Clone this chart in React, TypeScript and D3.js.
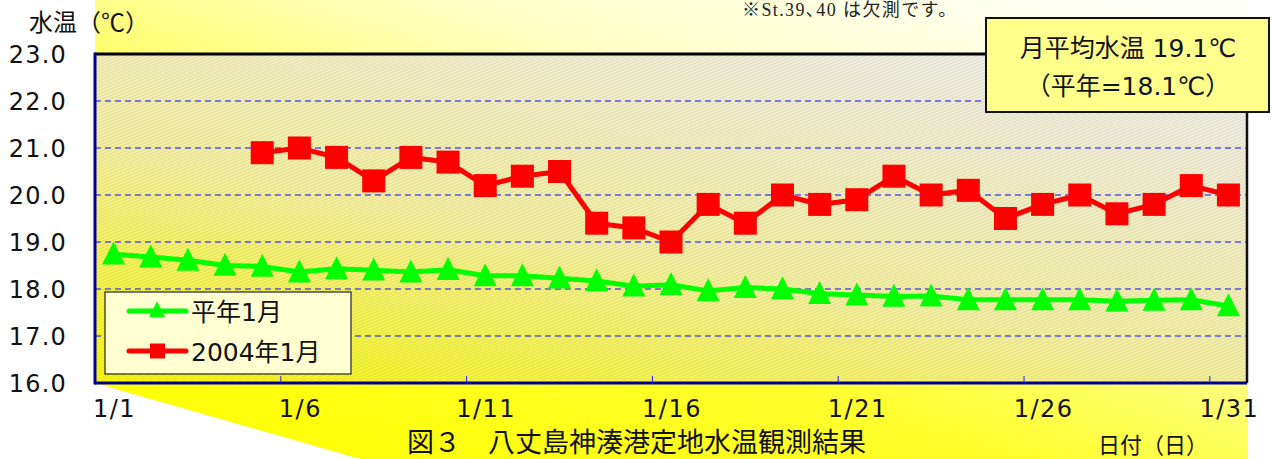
import React, { useEffect, useRef } from 'react';
import * as d3 from 'd3';

// days of January
const days = [1, 2, 3, 4, 5, 6, 7, 8, 9, 10, 11, 12, 13, 14, 15, 16, 17, 18, 19, 20, 21, 22, 23, 24, 25, 26, 27, 28, 29, 30, 31];
// 平年1月
const normalTemps = [18.74, 18.68, 18.61, 18.5, 18.48, 18.36, 18.43, 18.4, 18.36, 18.41, 18.28, 18.28, 18.23, 18.17, 18.06, 18.09, 17.96, 18.03, 18.0, 17.9, 17.87, 17.84, 17.85, 17.77, 17.77, 17.77, 17.77, 17.74, 17.76, 17.77, 17.64];
// 2004年1月 (1/1-1/4 no data)
const temps2004 = [null, null, null, null, 20.9, 21.0, 20.8, 20.3, 20.8, 20.7, 20.2, 20.4, 20.5, 19.4, 19.3, 19.0, 19.8, 19.4, 20.0, 19.8, 19.9, 20.4, 20.0, 20.1, 19.5, 19.8, 20.0, 19.6, 19.8, 20.2, 20.0];
const yTicks = [16, 17, 18, 19, 20, 21, 22, 23];
const xTickDays = [1, 6, 11, 16, 21, 26, 31];
const xTickLabels = ['1/1', '1/6', '1/11', '1/16', '1/21', '1/26', '1/31'];
const seriesNames = ['平年1月', '2004年1月'];

export default function App() {
  const ref = useRef<SVGSVGElement>(null);
  const width = 1274;
  const height = 459;
  const margin = { Top: 54, Right: 27, Bottom: 76, Left: 95 };
  const font = '"DejaVu Sans", "Noto Sans CJK JP", sans-serif';
  const jpFont = '"Noto Sans CJK JP", "Noto Sans", sans-serif';

  useEffect(() => {
    const svg = d3.select(ref.current);
    svg.selectAll('*').remove();
    const left = margin.Left, right = width - margin.Right;
    const top = margin.Top, bottom = height - margin.Bottom;

    const x = d3.scaleBand<number>().domain(days).range([left, right]);
    const y = d3.scaleLinear().domain([16, 23]).range([bottom, top]);
    const cx = (d: number) => (x(d) as number) + x.bandwidth() / 2;

    // ---------- defs ----------
    const defs = svg.append('defs');
    const bg = defs.append('linearGradient').attr('id', 'bgGrad')
      .attr('x1', 0.1).attr('y1', 1).attr('x2', 0.9).attr('y2', 0);
    bg.append('stop').attr('offset', 0).attr('stop-color', '#ffff00');
    bg.append('stop').attr('offset', 0.35).attr('stop-color', '#ffff30');
    bg.append('stop').attr('offset', 0.7).attr('stop-color', '#ffffc4');
    bg.append('stop').attr('offset', 1).attr('stop-color', '#fffffa');

    const pg = defs.append('linearGradient').attr('id', 'plotGrad')
      .attr('x1', 0).attr('y1', 1).attr('x2', 0.7).attr('y2', 0);
    pg.append('stop').attr('offset', 0).attr('stop-color', '#ffff00');
    pg.append('stop').attr('offset', 0.5).attr('stop-color', '#fbf7a8');
    pg.append('stop').attr('offset', 1).attr('stop-color', '#f6f4ea');

    const hatch = defs.append('pattern').attr('id', 'hatch')
      .attr('patternUnits', 'userSpaceOnUse').attr('width', 8).attr('height', 3)
      .attr('patternTransform', 'rotate(-22)');
    hatch.append('line').attr('x1', 0).attr('y1', 1).attr('x2', 8).attr('y2', 1)
      .attr('stroke', '#8a8460').attr('stroke-width', 1).attr('opacity', 0.35);

    // ---------- background ----------
    svg.append('rect').attr('width', width).attr('height', height).attr('fill', '#fff');
    svg.append('polygon')
      .attr('points', [[left, 0], [right + 1, 0], [right + 1, height], [360, height], [left, bottom]].map(p => p.join(',')).join(' '))
      .attr('fill', 'url(#bgGrad)');

    svg.append('rect').attr('x', left).attr('y', top).attr('width', right - left).attr('height', bottom - top)
      .attr('fill', 'url(#plotGrad)');
    svg.append('rect').attr('x', left).attr('y', top).attr('width', right - left).attr('height', bottom - top)
      .attr('fill', 'url(#hatch)');

    // ---------- grid ----------
    svg.append('g').selectAll('line').data(yTicks.filter(t => t > 16 && t < 23)).join('line')
      .attr('x1', left).attr('x2', right)
      .attr('y1', d => y(d)).attr('y2', d => y(d))
      .attr('stroke', '#0a0aff').attr('stroke-width', 1).attr('stroke-dasharray', '6,4');

    // borders
    svg.append('line').attr('x1', left).attr('x2', right + 1).attr('y1', top).attr('y2', top)
      .attr('stroke', '#000').attr('stroke-width', 3);
    svg.append('line').attr('x1', right).attr('x2', right).attr('y1', top).attr('y2', bottom)
      .attr('stroke', '#111').attr('stroke-width', 2.5);
    svg.append('line').attr('x1', left).attr('x2', left).attr('y1', top - 1.5).attr('y2', bottom + 1.5)
      .attr('stroke', '#000090').attr('stroke-width', 3);
    svg.append('line').attr('x1', left).attr('x2', right).attr('y1', bottom).attr('y2', bottom)
      .attr('stroke', '#000090').attr('stroke-width', 3);

    // x ticks
    svg.append('g').selectAll('line').data(xTickDays.slice(1)).join('line')
      .attr('x1', d => x(d) as number).attr('x2', d => x(d) as number)
      .attr('y1', bottom).attr('y2', bottom - 7)
      .attr('stroke', '#2020ff').attr('stroke-width', 1);

    // axis labels
    svg.append('g').selectAll('text').data(yTicks).join('text')
      .attr('x', 67).attr('y', d => y(d) + 9)
      .attr('text-anchor', 'end').attr('font-family', font).attr('font-size', 24)
      .attr('letter-spacing', 1.2).attr('fill', '#111')
      .text(d => d.toFixed(1));

    svg.append('g').selectAll('text').data(xTickDays).join('text')
      .attr('x', d => cx(d) + 1).attr('y', 417)
      .attr('text-anchor', 'middle').attr('font-family', font).attr('font-size', 24)
      .attr('letter-spacing', 1.5).attr('fill', '#111')
      .text((d, i) => xTickLabels[i]);

    svg.append('text').attr('x', 29).attr('y', 31).attr('font-family', jpFont).attr('font-size', 24)
      .attr('fill', '#111').text('水温（℃）');
    svg.append('text').attr('x', 1098).attr('y', 453).attr('font-family', jpFont).attr('font-size', 22)
      .attr('fill', '#111').text('日付（日）');
    svg.append('text').attr('x', 407).attr('y', 452).attr('font-family', jpFont).attr('font-size', 27)
      .attr('fill', '#111').text('図３　八丈島神湊港定地水温観測結果');
    svg.append('text').attr('x', 742).attr('y', 16)
      .attr('font-family', '"Liberation Serif", "DejaVu Serif", "Noto Sans CJK JP", serif')
      .attr('font-size', 18).attr('letter-spacing', 1.4).attr('fill', '#222').text('※St.39､40 は欠測です。');

    // ---------- lines ----------
    const lineGen = d3.line<number | null>()
      .defined(d => d !== null)
      .x((d, i) => cx(days[i]))
      .y(d => y(d as number));

    svg.append('path').datum(normalTemps).attr('d', lineGen as any)
      .attr('fill', 'none').attr('stroke', '#00ff00').attr('stroke-width', 5).attr('stroke-linejoin', 'round');
    svg.append('path').datum(temps2004).attr('d', lineGen as any)
      .attr('fill', 'none').attr('stroke', '#ff0000').attr('stroke-width', 5).attr('stroke-linejoin', 'round');

    const tri = (s: number) => `M0,${-s * 0.55}L${s / 2},${s * 0.45}L${-s / 2},${s * 0.45}Z`;
    svg.append('g').selectAll('path').data(normalTemps).join('path')
      .attr('d', tri(23))
      .attr('transform', (d, i) => `translate(${cx(days[i])},${y(d)})`)
      .attr('fill', '#00ff00');

    svg.append('g').selectAll('rect').data(days.filter((d, i) => temps2004[i] !== null)).join('rect')
      .attr('x', d => cx(d) - 11.5).attr('y', d => y(temps2004[d - 1] as number) - 11.5)
      .attr('width', 23).attr('height', 23).attr('fill', '#ff0000');

    // ---------- legend ----------
    const lg = svg.append('g');
    lg.append('rect').attr('x', 105).attr('y', 292).attr('width', 246).attr('height', 82)
      .attr('fill', '#ffffd2').attr('stroke', '#222').attr('stroke-width', 1.2);
    const legendY = [311, 351];
    const colors = ['#00ff00', '#ff0000'];
    legendY.forEach((ly, i) => {
      lg.append('line').attr('x1', 129).attr('x2', 186).attr('y1', ly).attr('y2', ly)
        .attr('stroke', colors[i]).attr('stroke-width', 5).attr('stroke-linecap', 'round');
      if (i === 0) {
        lg.append('path').attr('d', tri(16)).attr('transform', `translate(157,${ly - 1})`).attr('fill', colors[i]);
      } else {
        lg.append('rect').attr('x', 150).attr('y', ly - 7.5).attr('width', 15).attr('height', 15).attr('fill', colors[i]);
      }
      lg.append('text').attr('x', 191).attr('y', ly + 10).attr('font-family', font).attr('font-size', 25)
        .attr('fill', '#111').text(seriesNames[i]);
    });

    // ---------- average box ----------
    const box = svg.append('g');
    box.append('rect').attr('x', 986).attr('y', 18).attr('width', 283).attr('height', 94)
      .attr('fill', '#ffff8c').attr('stroke', '#111').attr('stroke-width', 2);
    box.append('text').attr('x', 1128).attr('y', 57).attr('text-anchor', 'middle')
      .attr('font-family', font).attr('font-size', 25).attr('fill', '#111').text('月平均水温 19.1℃');
    box.append('text').attr('x', 1128).attr('y', 95).attr('text-anchor', 'middle')
      .attr('font-family', font).attr('font-size', 25).attr('fill', '#111').text('（平年=18.1℃）');
  }, []);

  return (
    <svg ref={ref} width={width} height={height}
      style={{ position: 'absolute', left: 0, top: 0, display: 'block' }} />
  );
}
